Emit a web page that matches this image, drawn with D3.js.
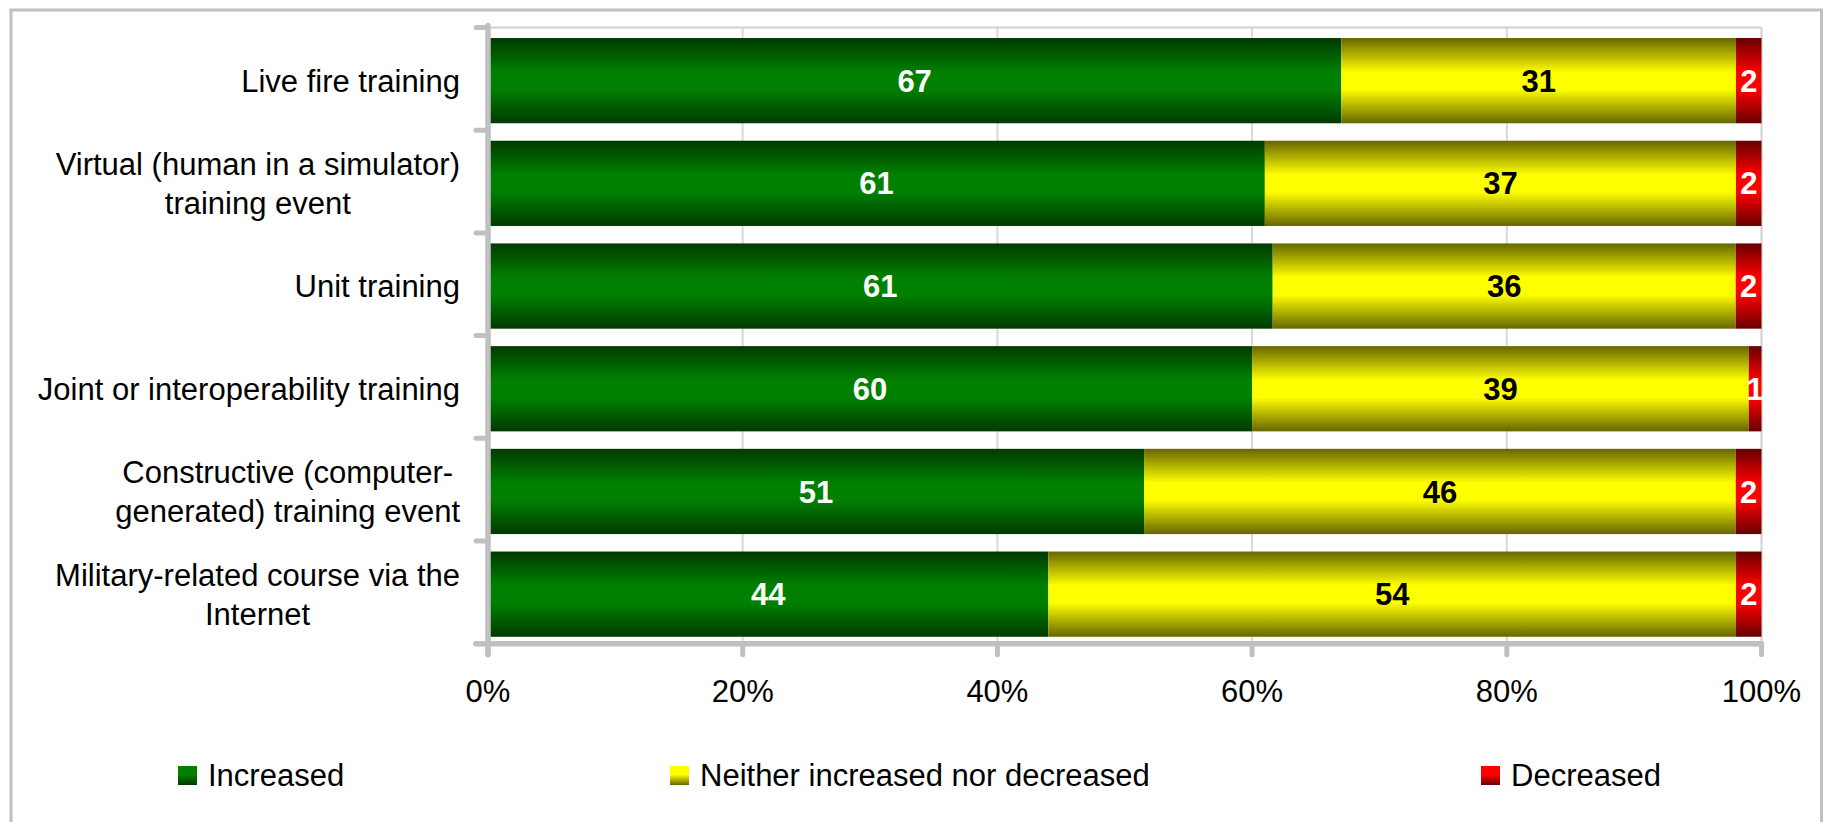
<!DOCTYPE html>
<html>
<head>
<meta charset="utf-8">
<script src="https://cdn.jsdelivr.net/npm/d3@7"></script>
<style>
  html, body { margin: 0; padding: 0; background: #fff; }
  svg { display: block; font-family: "Liberation Sans", Arial, sans-serif; }
</style>
</head>
<body>
<svg id="chart" width="1824" height="822"></svg>
<script>
// ---- data ----
const categories = [
  "Live fire training",
  "Virtual (human in a simulator) training event",
  "Unit training",
  "Joint or interoperability training",
  "Constructive (computer-generated) training event",
  "Military-related course via the Internet"
];
const categoryLines = [
  ["Live fire training"],
  ["Virtual (human in a simulator)", "training event"],
  ["Unit training"],
  ["Joint or interoperability training"],
  ["Constructive (computer-", "generated) training event"],
  ["Military-related course via the", "Internet"]
];
const seriesNames = ["Increased", "Neither increased nor decreased", "Decreased"];
const increased = [67, 61, 61, 60, 51, 44];
const neither   = [31, 37, 36, 39, 46, 54];
const decreased = [2, 2, 2, 1, 2, 2];
const tickValues = [0, 0.2, 0.4, 0.6, 0.8, 1.0];
const tickLabels = ["0%", "20%", "40%", "60%", "80%", "100%"];

// ---- styles ----
const FONT = 31;
const seriesColors = [
  { dark: "#003a00", bright: "#008000", label: "#ffffff" },
  { dark: "#666600", bright: "#ffff00", label: "#000000" },
  { dark: "#660000", bright: "#ff0000", label: "#ffffff" }
];

const svg = d3.select("#chart");
const defs = svg.append("defs");
seriesColors.forEach((c, i) => {
  const g = defs.append("linearGradient").attr("id", "bar" + i)
    .attr("x1", 0).attr("y1", 0).attr("x2", 0).attr("y2", 1);
  g.append("stop").attr("offset", "0%").attr("stop-color", c.dark);
  g.append("stop").attr("offset", "40%").attr("stop-color", c.bright);
  g.append("stop").attr("offset", "60%").attr("stop-color", c.bright);
  g.append("stop").attr("offset", "100%").attr("stop-color", c.dark);
  const l = defs.append("linearGradient").attr("id", "leg" + i)
    .attr("x1", 0).attr("y1", 0).attr("x2", 0).attr("y2", 1);
  l.append("stop").attr("offset", "0%").attr("stop-color", c.bright);
  l.append("stop").attr("offset", "45%").attr("stop-color", c.bright);
  l.append("stop").attr("offset", "100%").attr("stop-color", c.dark);
});

// outer frame
svg.append("rect").attr("x", 11).attr("y", 10).attr("width", 1810.5).attr("height", 830)
  .attr("fill", "none").attr("stroke", "#c0c0c0").attr("stroke-width", 3);

// scales
const x = d3.scaleLinear().domain([0, 1]).range([488, 1761.5]);
const y = d3.scaleBand().domain(categories).range([27.5, 643.7])
  .paddingInner(0.17).paddingOuter(0.085);
const barShift = 1.8;

// data table & stack (100% stacked)
const table = categories.map((c, i) => ({
  cat: c,
  [seriesNames[0]]: increased[i],
  [seriesNames[1]]: neither[i],
  [seriesNames[2]]: decreased[i]
}));
const stacked = d3.stack().keys(seriesNames).offset(d3.stackOffsetExpand)(table);

const plotTop = y.range()[0], plotBottom = y.range()[1];

// gridlines
svg.append("g").selectAll("line").data(tickValues.slice(1, -1)).join("line")
  .attr("x1", d => x(d)).attr("x2", d => x(d))
  .attr("y1", plotTop).attr("y2", plotBottom)
  .attr("stroke", "#d9d9d9").attr("stroke-width", 2);
// plot border top & right
svg.append("line").attr("x1", x(0)).attr("x2", x(1)).attr("y1", plotTop).attr("y2", plotTop)
  .attr("stroke", "#d0d0d0").attr("stroke-width", 2);
svg.append("line").attr("x1", x(1)).attr("x2", x(1)).attr("y1", plotTop).attr("y2", plotBottom)
  .attr("stroke", "#d0d0d0").attr("stroke-width", 2);

// bars
const layers = svg.append("g").selectAll("g").data(stacked).join("g")
  .attr("fill", (d, i) => `url(#bar${i})`);
layers.selectAll("rect").data(d => d).join("rect")
  .attr("x", d => x(d[0]))
  .attr("width", d => x(d[1]) - x(d[0]))
  .attr("y", d => y(d.data.cat) + barShift)
  .attr("height", y.bandwidth());

// value labels
const labels = svg.append("g").attr("font-weight", "bold").attr("font-size", FONT)
  .attr("text-anchor", "middle");
stacked.forEach((layer, si) => {
  labels.selectAll(".l" + si).data(layer).join("text")
    .attr("class", "l" + si)
    .attr("x", d => (x(d[0]) + x(d[1])) / 2)
    .attr("y", d => y(d.data.cat) + barShift + y.bandwidth() / 2 + FONT * 0.358)
    .attr("fill", seriesColors[si].label)
    .text(d => d.data[layer.key]);
});

// axes
const axisColor = "#c0c0c0";
const step = y.step();
const bounds = d3.range(categories.length + 1).map(i => plotTop + i * step);
const axes = svg.append("g").attr("stroke", axisColor).attr("stroke-linecap", "round");
// y axis
axes.append("line").attr("x1", x(0)).attr("x2", x(0)).attr("y1", plotTop - 2).attr("y2", plotBottom + 11)
  .attr("stroke-width", 5.5);
axes.selectAll(".yt").data(bounds).join("line").attr("class", "yt")
  .attr("x1", x(0) - 12).attr("x2", x(0)).attr("y1", d => d).attr("y2", d => d)
  .attr("stroke-width", 5);
// x axis
axes.append("line").attr("x1", x(0) - 12).attr("x2", x(1)).attr("y1", plotBottom).attr("y2", plotBottom)
  .attr("stroke-width", 5.5);
axes.selectAll(".xt").data(tickValues).join("line").attr("class", "xt")
  .attr("x1", d => x(d)).attr("x2", d => x(d)).attr("y1", plotBottom).attr("y2", plotBottom + 11)
  .attr("stroke-width", 5);

// x tick labels
svg.append("g").attr("font-size", FONT).attr("text-anchor", "middle").attr("fill", "#000")
  .selectAll("text").data(tickValues).join("text")
  .attr("x", d => x(d)).attr("y", 702)
  .text((d, i) => tickLabels[i]);

// category labels
const catG = svg.append("g").attr("font-size", FONT).attr("fill", "#000");
const lineH = 38.6;
categories.forEach((c, i) => {
  const lines = categoryLines[i];
  const cy = y(c) + barShift + y.bandwidth() / 2;
  const g = catG.append("g");
  const texts = lines.map((t, j) => g.append("text").attr("text-anchor", "middle").text(t));
  const maxW = d3.max(texts, t => t.node().getComputedTextLength());
  const cx = 460 - maxW / 2;
  const firstBase = cy + FONT * 0.358 - (lines.length - 1) * lineH / 2;
  texts.forEach((t, j) => t.attr("x", cx).attr("y", firstBase + j * lineH));
});

// legend
const legendX = [178, 670, 1481];
const leg = svg.append("g").selectAll("g").data(seriesNames).join("g")
  .attr("transform", (d, i) => `translate(${legendX[i]},766)`);
leg.append("rect").attr("width", 19).attr("height", 19).attr("fill", (d, i) => `url(#leg${i})`);
leg.append("text").attr("x", 30).attr("y", 19.5).attr("font-size", FONT).attr("fill", "#000").text(d => d);
</script>
</body>
</html>
